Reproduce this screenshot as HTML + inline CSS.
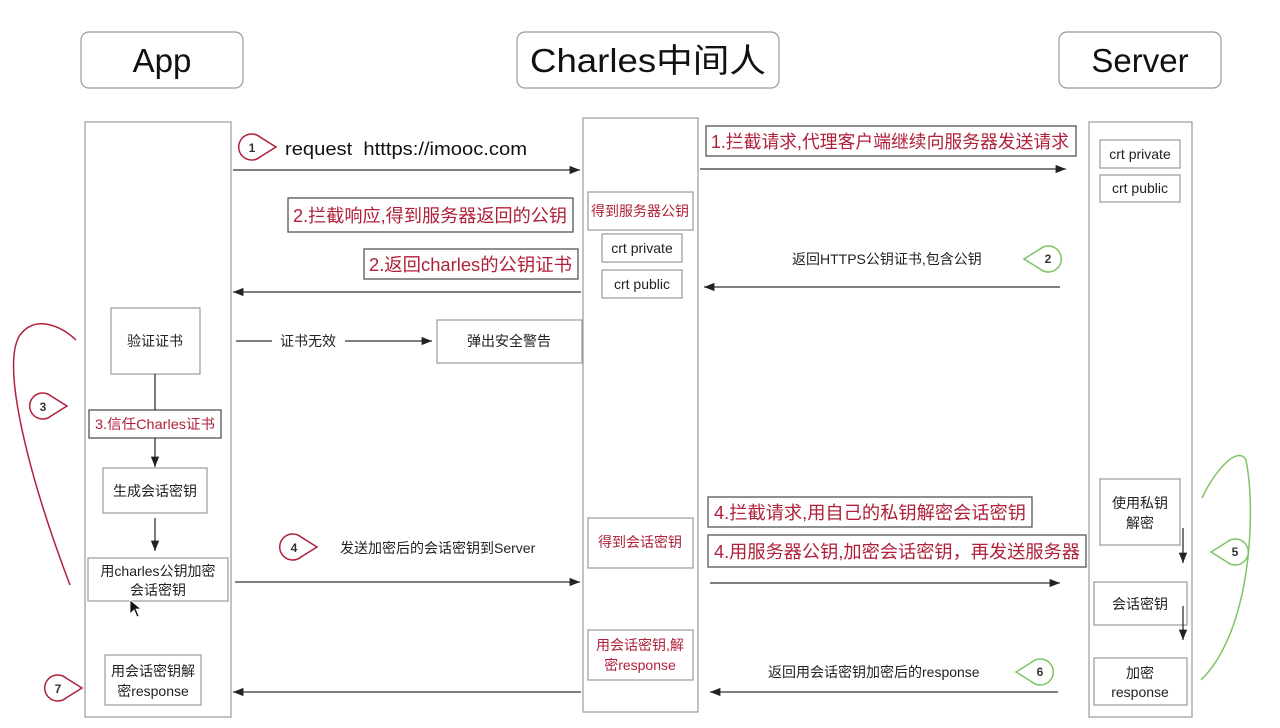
<!DOCTYPE html>
<html><head><meta charset="utf-8"><style>
html,body{margin:0;padding:0;background:#fff;}
svg{display:block;font-family:"Liberation Sans","Noto Sans CJK SC",sans-serif;}
</style></head><body>
<svg width="1280" height="728" viewBox="0 0 1280 728" xmlns="http://www.w3.org/2000/svg">
<defs>
<marker id="a" viewBox="0 0 10 10" refX="10" refY="5" markerWidth="8" markerHeight="8" orient="auto"><path d="M0 1 L10 5 L0 9 Z" fill="#222"/></marker>
<path id="br" d="M24 0 L8 -10 A13 13 0 1 0 8 10 Z"/>
</defs>
<rect width="1280" height="728" fill="#fff"/>
<g fill="#fff" stroke="#999" stroke-width="1.2">
<rect x="81" y="32" width="162" height="56" rx="8"/>
<rect x="517" y="32" width="262" height="56" rx="8"/>
<rect x="1059" y="32" width="162" height="56" rx="8"/>
<rect x="85" y="122" width="146" height="595"/>
<rect x="583" y="118" width="115" height="594"/>
<rect x="1089" y="122" width="103" height="595"/>
</g>
<g font-size="33" fill="#111" text-anchor="middle">
<text x="162" y="72">App</text>
<text x="648" y="72" textLength="236" lengthAdjust="spacingAndGlyphs">Charles中间人</text>
<text x="1140" y="72">Server</text>
</g>
<g fill="#fff" stroke="#999" stroke-width="1.2">
<rect x="1100" y="140" width="80" height="28"/><rect x="1100" y="175" width="80" height="27"/>
<rect x="588" y="192" width="105" height="38"/>
<rect x="602" y="234" width="80" height="28"/><rect x="602" y="270" width="80" height="28"/>
<rect x="111" y="308" width="89" height="66"/>
<rect x="437" y="320" width="145" height="43"/>
<rect x="103" y="468" width="104" height="45"/>
<rect x="88" y="558" width="140" height="43"/>
<rect x="105" y="655" width="96" height="50"/>
<rect x="588" y="518" width="105" height="50"/>
<rect x="588" y="630" width="105" height="50"/>
<rect x="1100" y="479" width="80" height="66"/>
<rect x="1094" y="582" width="93" height="43"/>
<rect x="1094" y="658" width="93" height="47"/>
</g>
<g fill="#fff" stroke="#555" stroke-width="1.3">
<rect x="706" y="126" width="370" height="30"/>
<rect x="288" y="198" width="285" height="34"/>
<rect x="364" y="249" width="214" height="30"/>
<rect x="89" y="410" width="132" height="28"/>
<rect x="708" y="497" width="324" height="30"/>
<rect x="708" y="535" width="378" height="32"/>
</g>
<g font-size="18" fill="#b0203a" lengthAdjust="spacingAndGlyphs">
<text x="711" y="148" textLength="358" lengthAdjust="spacingAndGlyphs">1.拦截请求,代理客户端继续向服务器发送请求</text>
<text x="293" y="222" textLength="274" lengthAdjust="spacingAndGlyphs">2.拦截响应,得到服务器返回的公钥</text>
<text x="369" y="271" textLength="203" lengthAdjust="spacingAndGlyphs">2.返回charles的公钥证书</text>
<text x="714" y="519" textLength="312" lengthAdjust="spacingAndGlyphs">4.拦截请求,用自己的私钥解密会话密钥</text>
<text x="714" y="558" textLength="366" lengthAdjust="spacingAndGlyphs">4.用服务器公钥,加密会话密钥，再发送服务器</text>
</g>
<g font-size="14" fill="#b0203a" text-anchor="middle">
<text x="640" y="216" textLength="98" lengthAdjust="spacingAndGlyphs">得到服务器公钥</text>
<text x="155" y="429" textLength="120" lengthAdjust="spacingAndGlyphs">3.信任Charles证书</text>
<text x="640" y="547">得到会话密钥</text>
<text x="640" y="650">用会话密钥,解</text>
<text x="640" y="670">密response</text>
</g>
<g font-size="14" fill="#222" text-anchor="middle">
<text x="1140" y="159">crt private</text><text x="1140" y="193">crt public</text>
<text x="642" y="253">crt private</text><text x="642" y="289">crt public</text>
<text x="155" y="346">验证证书</text>
<text x="509" y="346">弹出安全警告</text>
<text x="155" y="496">生成会话密钥</text>
<text x="158" y="576">用charles公钥加密</text><text x="158" y="595">会话密钥</text>
<text x="153" y="676">用会话密钥解</text><text x="153" y="696">密response</text>
<text x="1140" y="508">使用私钥</text><text x="1140" y="528">解密</text>
<text x="1140" y="609">会话密钥</text>
<text x="1140" y="678">加密</text><text x="1140" y="697">response</text>
</g>
<g font-size="14" fill="#222">
<text x="792" y="264">返回HTTPS公钥证书,包含公钥</text>
<text x="280" y="346">证书无效</text>
<text x="340" y="553">发送加密后的会话密钥到Server</text>
<text x="768" y="677">返回用会话密钥加密后的response</text>
</g>
<text x="285" y="155" font-size="18" fill="#111" textLength="242" lengthAdjust="spacingAndGlyphs">request&#160;&#160;htttps://imooc.com</text>
<g stroke="#333" stroke-width="1.3" fill="none" marker-end="url(#a)">
<line x1="233" y1="170" x2="580" y2="170"/>
<line x1="700" y1="169" x2="1066" y2="169"/>
<line x1="1060" y1="287" x2="704" y2="287"/>
<line x1="581" y1="292" x2="233" y2="292"/>
<line x1="345" y1="341" x2="432" y2="341"/>
<line x1="155" y1="438" x2="155" y2="467"/>
<line x1="155" y1="518" x2="155" y2="551"/>
<line x1="235" y1="582" x2="580" y2="582"/>
<line x1="710" y1="583" x2="1060" y2="583"/>
<line x1="1183" y1="528" x2="1183" y2="563"/>
<line x1="1183" y1="606" x2="1183" y2="640"/>
<line x1="1058" y1="692" x2="710" y2="692"/>
<line x1="581" y1="692" x2="233" y2="692"/>
</g>
<g stroke="#333" stroke-width="1.3">
<line x1="236" y1="341" x2="272" y2="341"/>
<line x1="155" y1="374" x2="155" y2="410"/>
</g>
<path d="M76 340 C60 325 35 315 20 335 C0 365 30 480 70 585" fill="none" stroke="#b0203a" stroke-width="1.5"/>
<path d="M1202 498 C1215 470 1238 445 1246 460 C1256 510 1252 630 1201 680" fill="none" stroke="#7cc465" stroke-width="1.5"/>
<g fill="#fff" stroke-width="1.5">
<use href="#br" transform="translate(252,147)" stroke="#b0203a"/>
<use href="#br" transform="translate(43,406)" stroke="#b0203a"/>
<use href="#br" transform="translate(58,688)" stroke="#b0203a"/>
<use href="#br" transform="translate(293,547)" stroke="#b0203a"/>
<use href="#br" transform="translate(1048,259) scale(-1,1)" stroke="#7cc465"/>
<use href="#br" transform="translate(1235,552) scale(-1,1)" stroke="#7cc465"/>
<use href="#br" transform="translate(1040,672) scale(-1,1)" stroke="#7cc465"/>
</g>
<g font-size="12" fill="#333" text-anchor="middle" font-weight="bold">
<text x="252" y="152">1</text><text x="43" y="411">3</text><text x="58" y="693">7</text><text x="294" y="552">4</text>
<text x="1048" y="263">2</text><text x="1235" y="556">5</text><text x="1040" y="676">6</text>
</g>
<path d="M130 600 L130 614 L134 610 L137 617 L139 616 L136 609 L141 609 Z" fill="#111" stroke="#fff" stroke-width="0.8"/>
</svg>
</body></html>
